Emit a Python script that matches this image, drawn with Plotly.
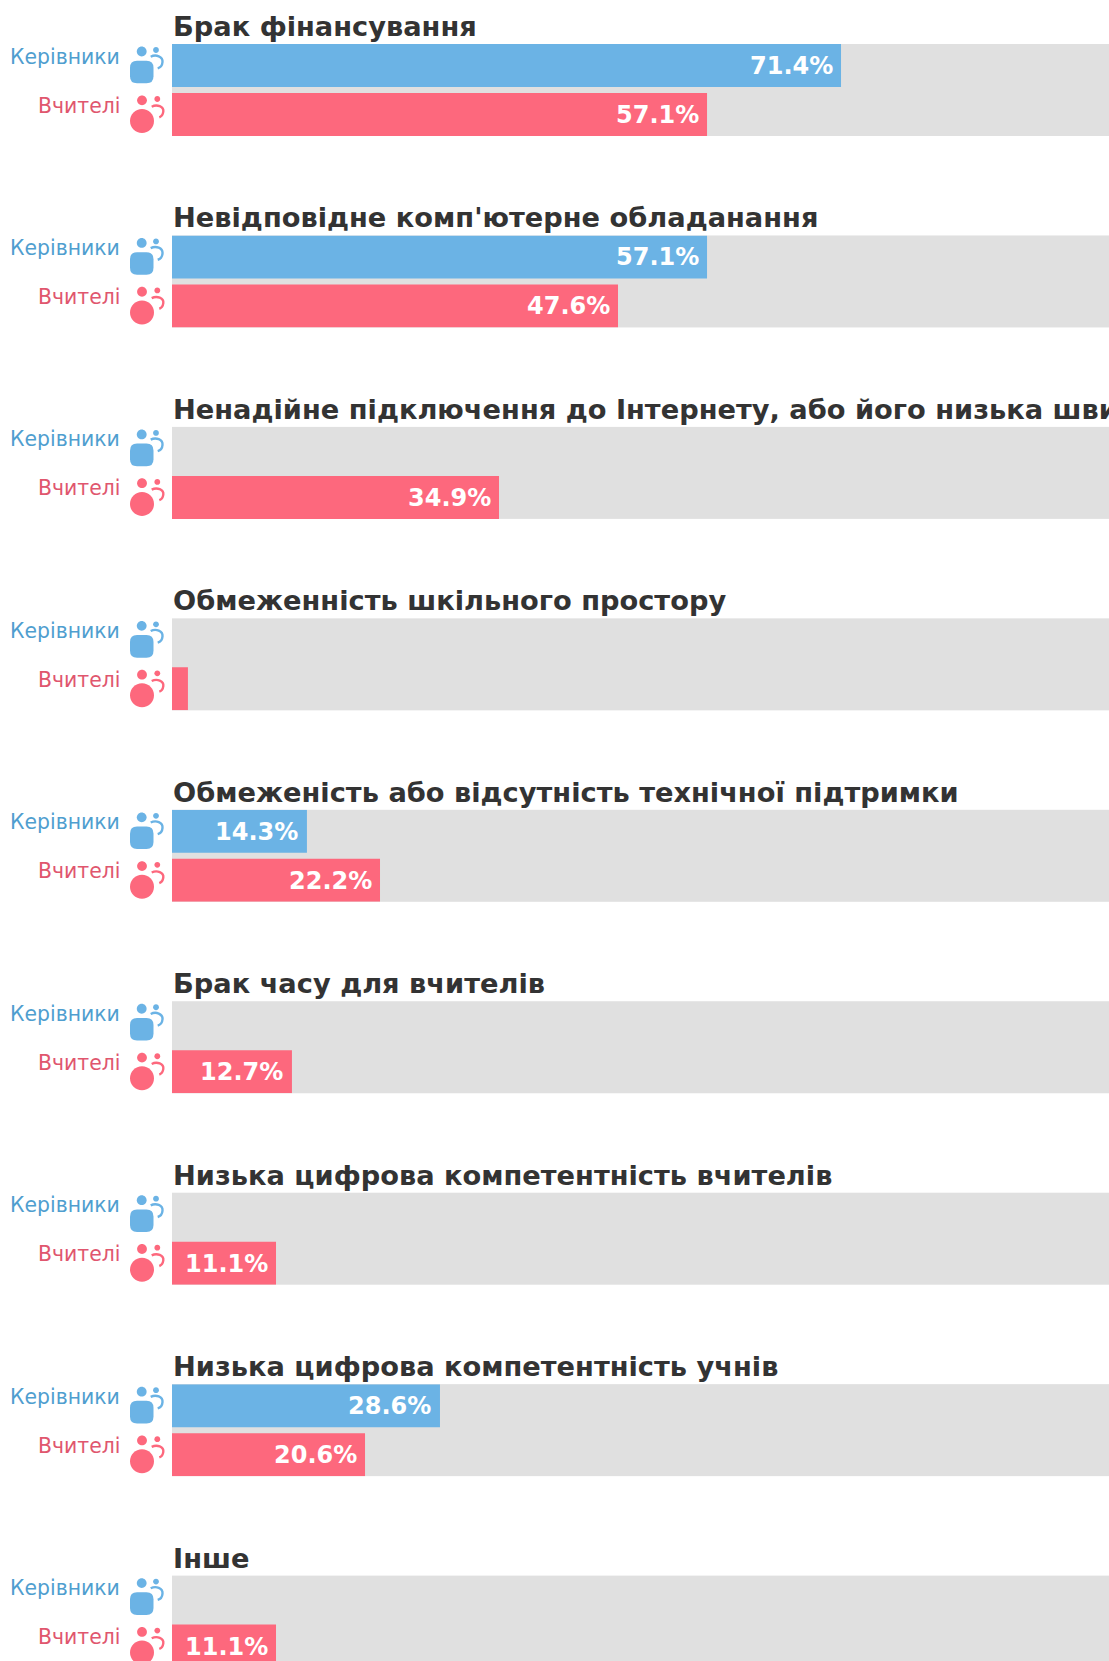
import plotly.graph_objects as go

titles = ["Брак фінансування", "Невідповідне комп'ютерне обладанання",
          "Ненадійне підключення до Інтернету, або його низька швидкість",
          "Обмеженність шкільного простору", "Обмеженість або відсутність технічної підтримки",
          "Брак часу для вчителів", "Низька цифрова компетентність вчителів",
          "Низька цифрова компетентність учнів", "Інше"]
groups = ["Керівники", "Вчителі"]
leaders = [71.4, 57.1, None, None, 14.4, None, None, 28.6, None]
teachers = [57.1, 47.6, 34.9, 1.7, 22.2, 12.8, 11.1, 20.6, 11.1]
labels_leaders = ["71.4%", "57.1%", "", "", "14.3%", "", "", "28.6%", ""]
labels_teachers = ["57.1%", "47.6%", "34.9%", "", "22.2%", "12.7%", "11.1%", "20.6%", "11.1%"]

W, H = 1109, 1661
LEFT, TOP0, PITCH, PLOT_H = 172, 44, 191.45, 92
BAND = 49
BLUE, RED = "#6BB3E5", "#FD687D"
LBLUE, LRED = "#4F9ECF", "#E0566E"
K = 0.5523


def circle(cx, cy, r):
    c = K * r
    return (f"M {cx-r} {cy} C {cx-r} {cy+c} {cx-c} {cy+r} {cx} {cy+r} "
            f"C {cx+c} {cy+r} {cx+r} {cy+c} {cx+r} {cy} "
            f"C {cx+r} {cy-c} {cx+c} {cy-r} {cx} {cy-r} "
            f"C {cx-c} {cy-r} {cx-r} {cy-c} {cx-r} {cy} Z")


def rrect(x0, y0, x1, y1, r):
    return (f"M {x0+r} {y0} L {x1-r} {y0} Q {x1} {y0} {x1} {y0+r} L {x1} {y1-r} Q {x1} {y1} {x1-r} {y1} "
            f"L {x0+r} {y1} Q {x0} {y1} {x0} {y1-r} L {x0} {y0+r} Q {x0} {y0} {x0+r} {y0} Z")


ICONS = {
    "blue": dict(col=BLUE, off=28, parts=[circle(-0.3, 20.5, 4.9), circle(14, 22, 2.9), rrect(-12, -11.3, 11.5, 11.3, 7)],
                 arc="M 8.7 15.3 C 14 18 21 15.5 20.5 10 C 20.3 7 18.5 4.5 15.7 3.7"),
    "red": dict(col=RED, off=77, parts=[circle(0, 20.7, 4.9), circle(15.3, 22, 2.9), circle(0, 0, 12)],
                arc="M 9.7 14.3 C 15 17 22 14.5 21.3 9.3 C 21 7 19.5 4.5 17.3 3.7"),
}

fig = go.Figure()
annots, shapes = [], []
for i, t in enumerate(titles):
    n = "" if i == 0 else str(i + 1)
    top = TOP0 + i * PITCH
    bottom = min(top + PLOT_H, H)
    h = bottom - top
    ymax = -0.4388 + h / BAND
    fig.update_layout({
        f"xaxis{n}": dict(domain=[LEFT / W, 1], range=[0, 100], visible=False, fixedrange=True, anchor=f"y{n}"),
        f"yaxis{n}": dict(domain=[1 - bottom / H, 1 - top / H], type="category",
                          categoryorder="array", categoryarray=groups,
                          range=[ymax, -0.4388], visible=False, anchor=f"x{n}"),
    })
    xr, yr = f"x{n}", f"y{n}"
    fig.add_trace(go.Bar(x=[leaders[i], teachers[i]], y=groups, orientation="h", xaxis=xr, yaxis=yr,
                         width=43 / BAND, marker=dict(color=[BLUE, RED], line_width=0),
                         showlegend=False, hoverinfo="skip"))
    for g, v, lab in zip(groups, [leaders[i], teachers[i]], [labels_leaders[i], labels_teachers[i]]):
        if lab:
            annots.append(dict(x=v, y=g, xref=xr, yref=yr, text=f"<b>{lab}</b>", showarrow=False,
                               xanchor="right", xshift=-6.5, yshift=-0.5,
                               font=dict(family="DejaVu Sans", size=24, color="white")))
    annots.append(dict(x=0, y=1, xref=f"{xr} domain", yref=f"{yr} domain", text=f"<b>{t}</b>",
                       showarrow=False, xanchor="left", yanchor="bottom", xshift=-1.4, yshift=0,
                       font=dict(family="DejaVu Sans", size=27.25, color="#333333")))
    for g, col in [(groups[0], LBLUE), (groups[1], LRED)]:
        annots.append(dict(x=-50 / 937, y=g, xref=f"{xr} domain", yref=yr, text=g, showarrow=False,
                           xanchor="right", yshift=9,
                           font=dict(family="DejaVu Sans", size=20.4, color=col)))
    for ic in ICONS.values():
        ax, ay = 142 / W, 1 - (top + ic["off"]) / H
        for p in ic["parts"]:
            shapes.append(dict(type="path", path=p, xref="paper", yref="paper", xsizemode="pixel", ysizemode="pixel",
                               xanchor=ax, yanchor=ay, fillcolor=ic["col"], line_width=0, layer="above"))
        shapes.append(dict(type="path", path=ic["arc"], xref="paper", yref="paper", xsizemode="pixel",
                           ysizemode="pixel", xanchor=ax, yanchor=ay,
                           line=dict(color=ic["col"], width=2.4), layer="above"))

fig.update_layout(width=W, height=H, margin=dict(l=0, r=0, t=0, b=0), paper_bgcolor="white",
                  plot_bgcolor="#E0E0E0", barmode="overlay", annotations=annots, shapes=shapes,
                  font=dict(family="DejaVu Sans"))
fig.write_html("out.html", config=dict(displayModeBar=False),
               post_script="document.body.style.margin='0';document.body.style.overflow='hidden';")
